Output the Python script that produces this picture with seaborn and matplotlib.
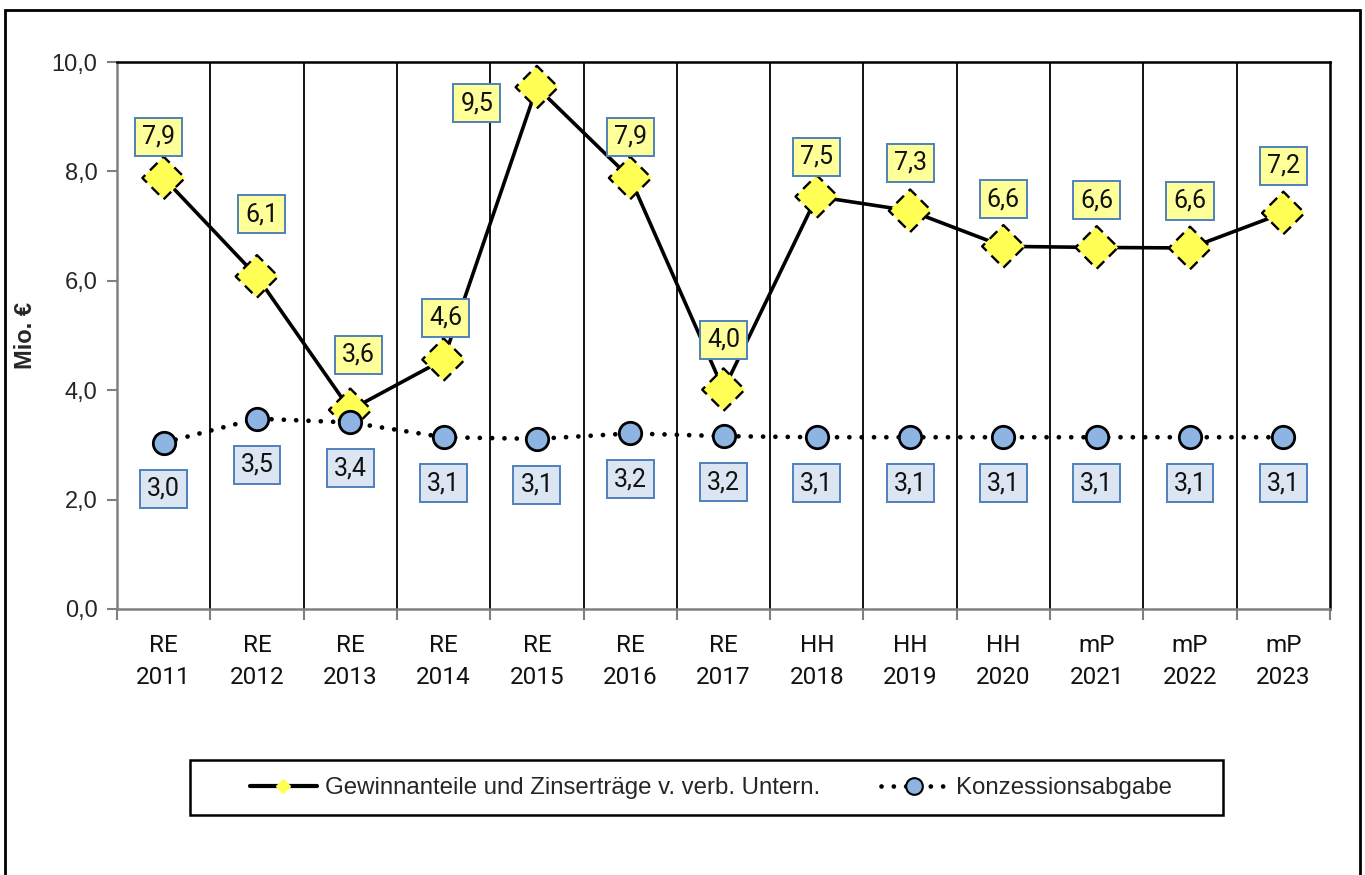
import numpy as np
import pandas as pd
import matplotlib.pyplot as plt
import seaborn as sns
from matplotlib.lines import Line2D
from matplotlib.patches import Rectangle

# Kategorien und Werte (Mio. EUR)
kategorien = ['RE\n2011', 'RE\n2012', 'RE\n2013', 'RE\n2014', 'RE\n2015', 'RE\n2016', 'RE\n2017',
              'HH\n2018', 'HH\n2019', 'HH\n2020', 'mP\n2021', 'mP\n2022', 'mP\n2023']
gewinn = [7.88, 6.08, 3.64, 4.56, 9.54, 7.88, 4.01, 7.54, 7.28, 6.63, 6.61, 6.60, 7.24]
konzession = [3.04, 3.48, 3.41, 3.14, 3.11, 3.21, 3.16, 3.14, 3.14, 3.14, 3.14, 3.14, 3.14]
y_ticks = [0, 2, 4, 6, 8, 10]

name_gewinn = 'Gewinnanteile und Zinserträge v. verb. Untern.'
name_konz = 'Konzessionsabgabe'

df = pd.DataFrame({'pos': np.arange(len(kategorien)), 'kat': kategorien,
                   'gewinn': gewinn, 'konz': konzession})

# label offsets in pixels (dx, dy nach oben positiv)
gew_off = [(-5, 41), (5, 62), (8, 55), (2, 42), (-60, -16), (0, 41), (0, 50),
           (0, 40), (0, 48), (0, 47), (0, 47), (0, 47), (0, 47)]
konz_off = (0, -46)

sns.set_theme(style='white')
plt.rcParams['font.family'] = ['Liberation Sans', 'DejaVu Sans']

fig = plt.figure(figsize=(13.65, 8.75), dpi=100)
ax = fig.add_axes([117 / 1365, 1 - 609 / 875, 1213 / 1365, 547 / 875])

gelb = '#FFFF55'
blau = '#8DB4E2'
punkte = (0, (0.01, 2.6))

# vertikale Trennlinien zwischen den Kategorien
n = len(kategorien)
ax.vlines(np.arange(0.5, n - 0.5), 0, 10, color='black', lw=1.3, zorder=1)

sns.lineplot(data=df, x='pos', y='konz', ax=ax, color='black', lw=3.4,
             linestyle=punkte, dash_capstyle='round', zorder=2)
sns.lineplot(data=df, x='pos', y='gewinn', ax=ax, color='black', lw=2.6, zorder=3)
sns.scatterplot(data=df, x='pos', y='gewinn', ax=ax, marker='D', s=470, color=gelb,
                edgecolor='black', linewidth=1.7, linestyle=(0, (4.5, 2.8)), zorder=4)
sns.scatterplot(data=df, x='pos', y='konz', ax=ax, marker='o', s=260, color=blau,
                edgecolor='black', linewidth=2, zorder=5)

lab_font = dict(family=['Roboto', 'DejaVu Sans'], fontsize=18, color='#111111')
for i, v in enumerate(gewinn):
    ax.annotate(f'{v:.1f}'.replace('.', ','), (i, v), xytext=gew_off[i],
                textcoords='offset pixels', ha='center', va='center', zorder=6,
                bbox=dict(boxstyle='square,pad=0.28', fc='#FFFF99', ec='#4F81BD', lw=1.4),
                **lab_font)
for i, v in enumerate(konzession):
    ax.annotate(f'{v:.1f}'.replace('.', ','), (i, v), xytext=konz_off,
                textcoords='offset pixels', ha='center', va='center', zorder=6,
                bbox=dict(boxstyle='square,pad=0.28', fc='#DCE6F2', ec='#4F81BD', lw=1.4),
                **lab_font)

ax.set_xlim(-0.5, n - 0.5)
ax.set_ylim(0, 10)
ax.set_xticks(np.arange(n))
ax.set_xticklabels(kategorien, family=['Roboto', 'DejaVu Sans'], fontsize=17.5,
                   linespacing=1.5, color='#111111')
ax.set_xticks(np.arange(-0.5, n), minor=True)
ax.tick_params(axis='x', which='major', length=0, pad=18)
ax.tick_params(axis='x', which='minor', length=8, width=1.5, color='#808080',
               direction='out', bottom=True)
ax.set_yticks(y_ticks)
ax.set_yticklabels([f'{t:.1f}'.replace('.', ',') for t in y_ticks], fontsize=17)
ax.tick_params(axis='y', length=7, width=1.5, color='#808080', direction='out',
               left=True, pad=7)
ax.set_xlabel('')
ax.set_ylabel('Mio. €', fontsize=17, fontweight='bold')
ax.yaxis.set_label_coords(-0.066, 0.5)

for s in ['left', 'bottom']:
    ax.spines[s].set_color('#808080')
    ax.spines[s].set_linewidth(1.8)
for s in ['top', 'right']:
    ax.spines[s].set_color('black')
    ax.spines[s].set_linewidth(1.8)
    ax.spines[s].set_visible(True)

# Legende in eigenem Rahmen
fig.patches.append(Rectangle((190 / 1365, 1 - 815 / 875), 1033 / 1365, 55 / 875,
                             transform=fig.transFigure, fill=False, ec='black', lw=1.8))
handles = [Line2D([], [], color='black', lw=3, marker='D', ms=7, mfc=gelb, mec=gelb),
           Line2D([], [], color='black', lw=3.4, linestyle=punkte,
                  dash_capstyle='round', marker='o', ms=12, mfc=blau, mec='black', mew=1.5)]
fig.legend(handles, [name_gewinn, name_konz], loc='center', ncol=2, frameon=False,
           bbox_to_anchor=(711 / 1365, 1 - 788 / 875), columnspacing=2.5,
           handlelength=2.8, handletextpad=0.35,
           prop=dict(family=['Liberation Sans'], size=17.3))

# äußerer Rahmen
fig.patches.append(Rectangle((5 / 1365, -0.05), 1355 / 1365, 1.05 - 10 / 875,
                             transform=fig.transFigure, fill=False, ec='black', lw=2))

fig.savefig('out.png', dpi=100)
